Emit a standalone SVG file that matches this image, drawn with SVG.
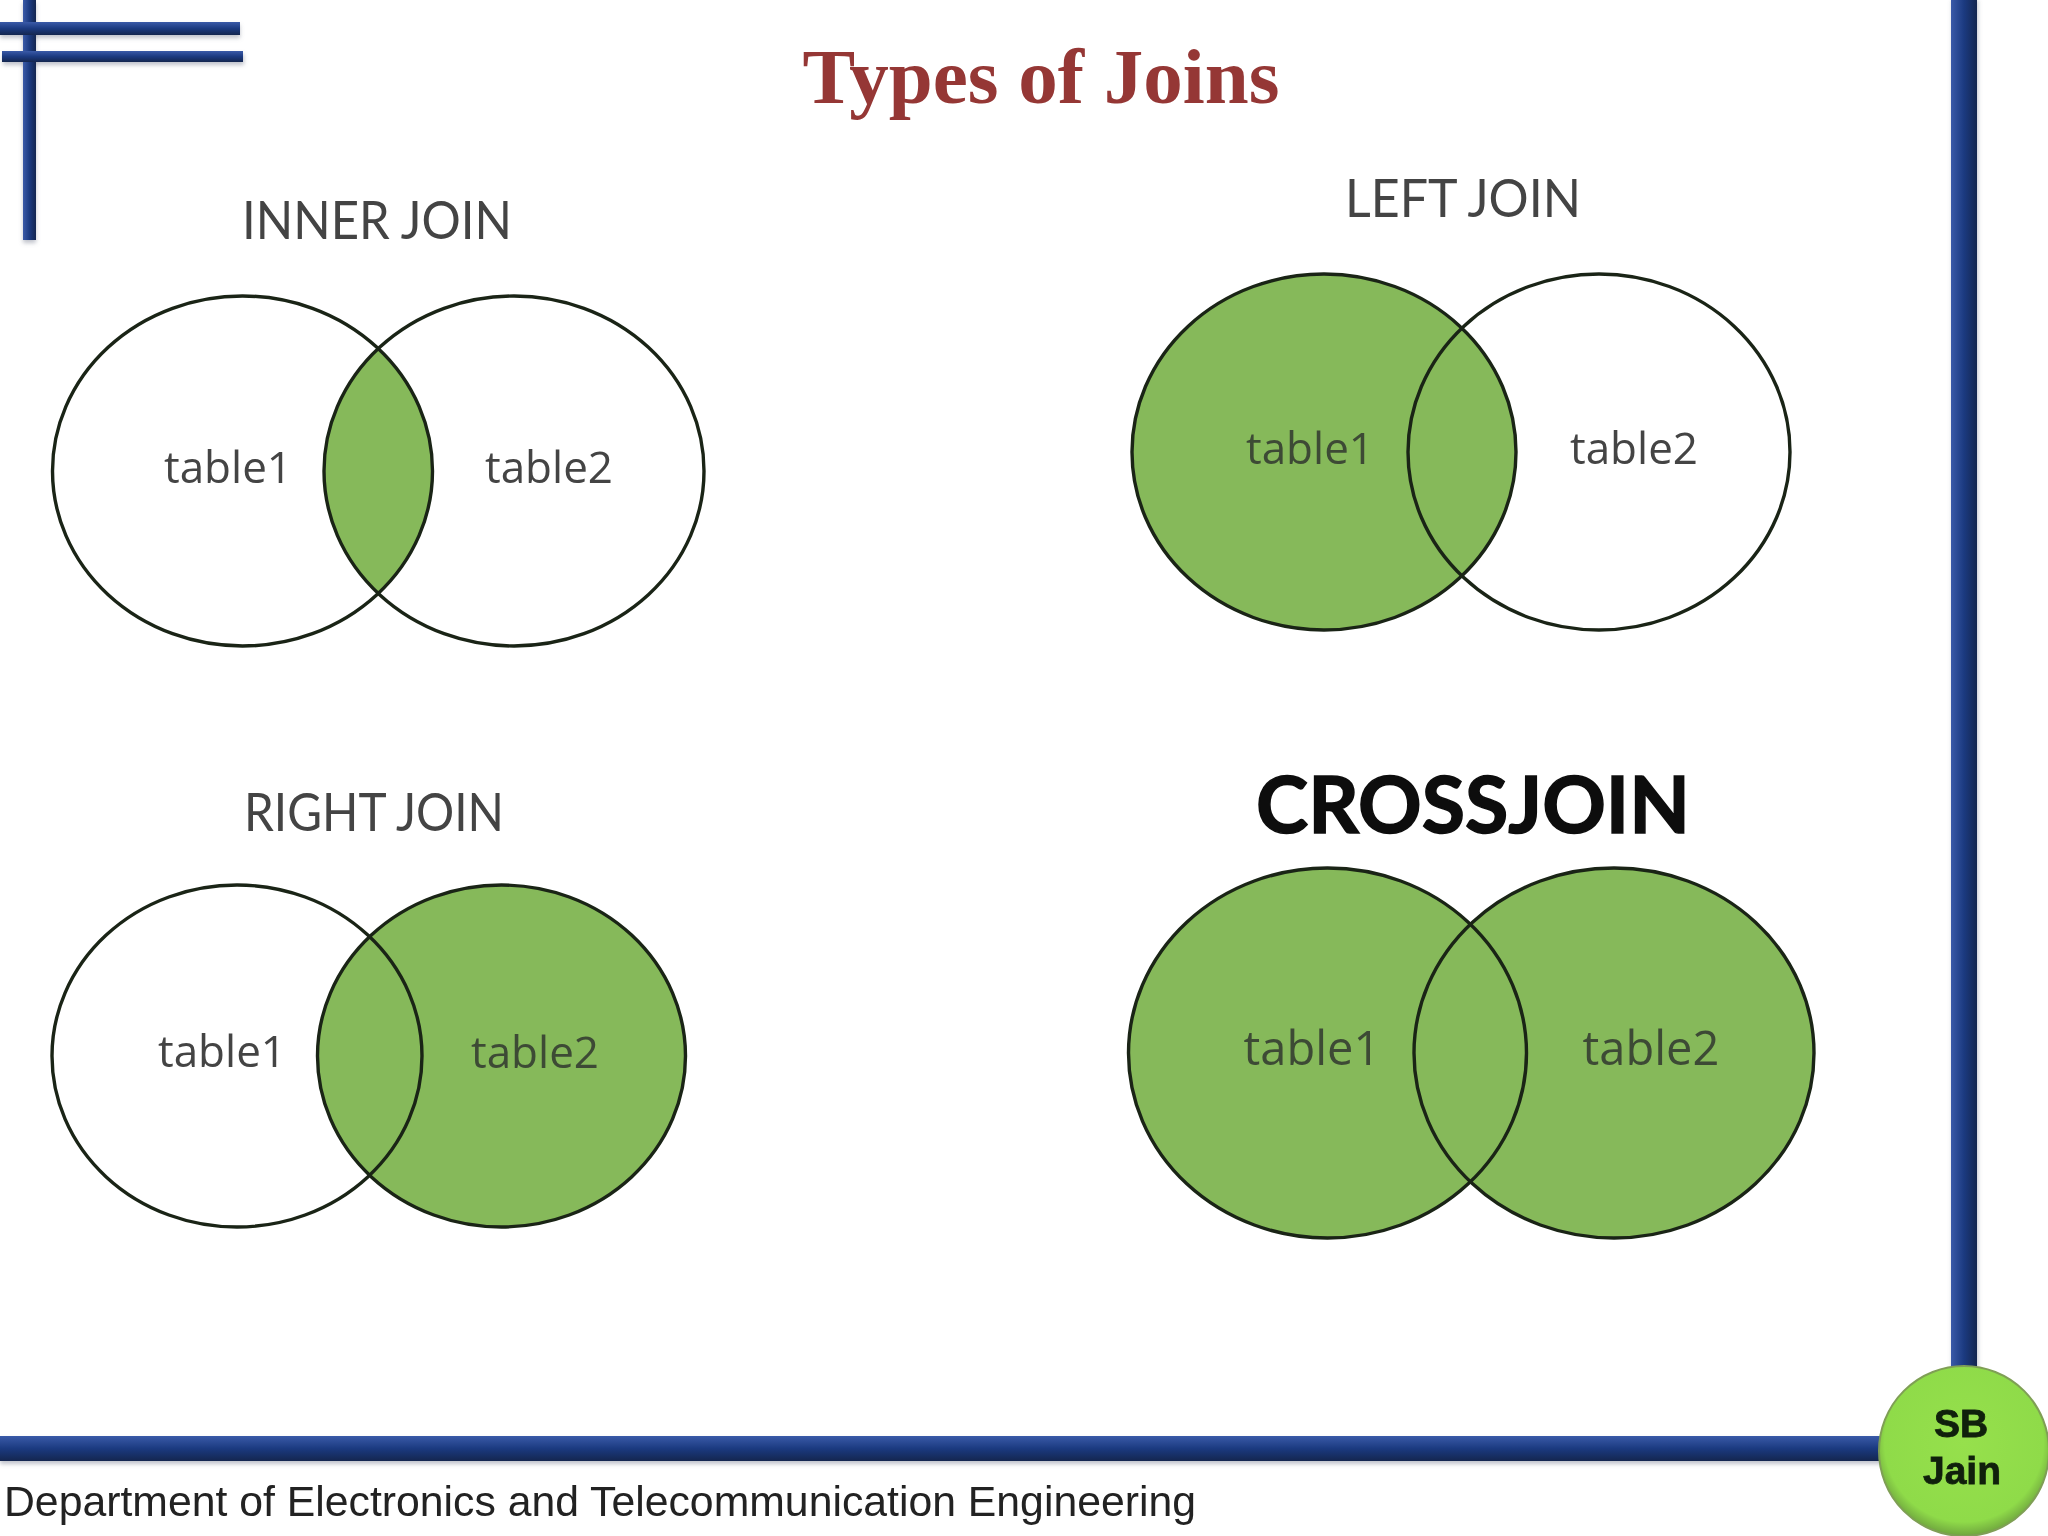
<svg xmlns="http://www.w3.org/2000/svg" width="2048" height="1536" viewBox="0 0 2048 1536">
<style>
.c{stroke:#1a2416;stroke-width:3.4;}
.f{fill:#86b95a;}
.n{fill:none;}
.w{fill:#fff;}
.h{font-family:"Lato","Open Sans",sans-serif;font-size:52px;fill:#444;text-anchor:middle;}
.t{font-family:"Open Sans",sans-serif;font-size:44px;fill:#444;text-anchor:middle;}
.m{font-size:47px;fill:#3d4a35;}
.s{fill:#8a90a0;opacity:.55;}
</style>
<defs>
<filter id="sh" x="-20%" y="-20%" width="140%" height="140%"><feGaussianBlur stdDeviation="2"/></filter>
<linearGradient id="hb" x1="0" y1="0" x2="0" y2="1"><stop offset="0" stop-color="#3a5aa8"/><stop offset=".5" stop-color="#1b3a80"/><stop offset="1" stop-color="#14264f"/></linearGradient>
<linearGradient id="vb" x1="0" y1="0" x2="1" y2="0"><stop offset="0" stop-color="#3a5aa8"/><stop offset=".5" stop-color="#1b3a80"/><stop offset="1" stop-color="#14264f"/></linearGradient>
<radialGradient id="g" cx=".5" cy=".45" r=".55"><stop offset="0" stop-color="#96e04c"/><stop offset=".85" stop-color="#8fdb49"/><stop offset="1" stop-color="#6fa53e"/></radialGradient>
<clipPath id="ci"><ellipse cx="242.5" cy="471" rx="190" ry="175"/></clipPath>
</defs>
<rect width="2048" height="1536" fill="#fff"/>
<g id="frame">
<g filter="url(#sh)">
<rect class="s" x="23" y="3" width="13" height="240"/>
<rect class="s" x="0" y="25" width="240" height="13"/>
<rect class="s" x="3" y="54" width="241" height="11"/>
<rect class="s" x="1952" y="0" width="26" height="1370"/>
<rect class="s" x="0" y="1439" width="1885" height="25"/>
</g>
<rect x="23" y="0" width="13" height="240" fill="url(#vb)"/>
<rect x="0" y="22" width="240" height="13" fill="url(#hb)"/>
<rect x="2" y="51" width="241" height="11" fill="url(#hb)"/>
<rect x="1951" y="0" width="26" height="1370" fill="url(#vb)"/>
<rect x="0" y="1436" width="1885" height="25" fill="url(#hb)"/>
</g>
<text id="title" x="1041" y="103" font-family="'Liberation Serif',serif" font-size="79" font-weight="bold" fill="#953735" text-anchor="middle">Types of Joins</text>
<g id="inner-join">
<text class="h" x="377" y="239" textLength="270" lengthAdjust="spacingAndGlyphs">INNER JOIN</text>
<ellipse class="w" cx="242.5" cy="471" rx="190" ry="175"/>
<ellipse class="w" cx="514" cy="471" rx="190" ry="175"/>
<ellipse class="f" cx="514" cy="471" rx="190" ry="175" clip-path="url(#ci)"/>
<ellipse class="c n" cx="242.5" cy="471" rx="190" ry="175"/>
<ellipse class="c n" cx="514" cy="471" rx="190" ry="175"/>
<text class="t" x="228" y="483">table1</text>
<text class="t" x="549" y="483">table2</text>
</g>
<g id="left-join">
<text class="h" x="1463" y="217" textLength="236" lengthAdjust="spacingAndGlyphs">LEFT JOIN</text>
<ellipse class="w" cx="1599" cy="452" rx="191" ry="178"/>
<ellipse class="f" cx="1324" cy="452" rx="192" ry="178"/>
<ellipse class="c n" cx="1599" cy="452" rx="191" ry="178"/>
<ellipse class="c n" cx="1324" cy="452" rx="192" ry="178"/>
<text class="t" x="1310" y="464" style="fill:#3d4a35">table1</text>
<text class="t" x="1634" y="464">table2</text>
</g>
<g id="right-join">
<text class="h" x="374" y="831" textLength="260" lengthAdjust="spacingAndGlyphs">RIGHT JOIN</text>
<ellipse class="w" cx="237" cy="1056" rx="185" ry="171"/>
<ellipse class="f" cx="501.5" cy="1056" rx="184" ry="171"/>
<ellipse class="c n" cx="237" cy="1056" rx="185" ry="171"/>
<ellipse class="c n" cx="501.5" cy="1056" rx="184" ry="171"/>
<text class="t" x="222" y="1067">table1</text>
<text class="t" x="535" y="1068" style="fill:#3d4a35">table2</text>
</g>
<g id="cross-join">
<text x="1473" y="833" font-family="'Lato','Open Sans',sans-serif" font-size="78" font-weight="bold" fill="#0d0d0d" stroke="#0d0d0d" stroke-width="1.5" text-anchor="middle" textLength="434" lengthAdjust="spacingAndGlyphs">CROSSJOIN</text>
<ellipse class="f" cx="1327.5" cy="1053" rx="199" ry="185"/>
<ellipse class="f" cx="1614" cy="1053" rx="200" ry="185"/>
<ellipse class="c n" cx="1327.5" cy="1053" rx="199" ry="185"/>
<ellipse class="c n" cx="1614" cy="1053" rx="200" ry="185"/>
<text class="t m" x="1312" y="1065" style="font-size:47px;fill:#3d4a35">table1</text>
<text class="t m" x="1651" y="1065" style="font-size:47px;fill:#3d4a35">table2</text>
</g>
<text id="footer" x="4" y="1516" font-family="'Liberation Sans',sans-serif" font-size="42.5" fill="#222" textLength="1192" lengthAdjust="spacingAndGlyphs">Department of Electronics and Telecommunication Engineering</text>
<g id="badge">
<circle cx="1964" cy="1451" r="85" fill="url(#g)" stroke="#7f9f55" stroke-width="2"/>
<text x="1961" y="1437" font-family="'Liberation Sans',sans-serif" font-size="39" font-weight="bold" fill="#10200c" stroke="#10200c" stroke-width=".8" text-anchor="middle">SB</text>
<text x="1962" y="1484" font-family="'Liberation Sans',sans-serif" font-size="39" font-weight="bold" fill="#10200c" stroke="#10200c" stroke-width=".8" text-anchor="middle">Jain</text>
</g>
</svg>
